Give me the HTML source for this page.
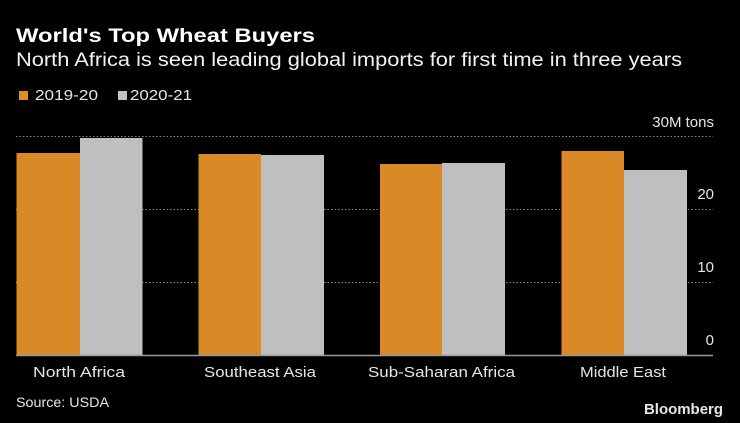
<!DOCTYPE html>
<html><head><meta charset="utf-8"><style>
html,body{margin:0;padding:0;background:#000;}
svg{display:block;font-family:"Liberation Sans","DejaVu Sans",sans-serif;}
</style></head><body>
<svg width="740" height="423" viewBox="0 0 740 423" xmlns="http://www.w3.org/2000/svg">
<rect width="740" height="423" fill="#000"/>
<text x="16" y="42" font-size="19" font-weight="bold" fill="#fff" textLength="299" lengthAdjust="spacingAndGlyphs">World's Top Wheat Buyers</text>
<text x="16" y="66" font-size="19" fill="#f2f2f2" textLength="666" lengthAdjust="spacingAndGlyphs">North Africa is seen leading global imports for first time in three years</text>
<rect x="19" y="91" width="9" height="9" fill="#e08e26"/>
<text x="35" y="100" font-size="15" fill="#e6e6e6" textLength="63" lengthAdjust="spacingAndGlyphs">2019-20</text>
<rect x="118" y="91" width="9" height="9" fill="#c2c2c2"/>
<text x="130" y="100" font-size="15" fill="#e6e6e6" textLength="62" lengthAdjust="spacingAndGlyphs">2020-21</text>
<g stroke="#888" stroke-width="1" stroke-dasharray="1.5,2">
<line x1="16" y1="136.5" x2="713" y2="136.5"/>
<line x1="16" y1="209.5" x2="713" y2="209.5"/>
<line x1="16" y1="282.5" x2="713" y2="282.5"/>
</g>
<g font-size="15" fill="#e6e6e6" text-anchor="end">
<text x="714" y="127">30M tons</text>
<text x="714" y="199">20</text>
<text x="714" y="272">10</text>
<text x="714" y="345">0</text>
</g>
<g fill="#d98a26">
<rect x="16.5" y="153" width="63.5" height="202"/>
<rect x="198.5" y="154" width="62.5" height="201"/>
<rect x="380" y="164" width="62" height="191"/>
<rect x="561.5" y="151" width="62.5" height="204"/>
</g>
<g fill="#bfbfbf">
<rect x="80" y="138" width="62.5" height="217"/>
<rect x="261" y="155" width="63" height="200"/>
<rect x="442" y="163" width="63" height="192"/>
<rect x="624" y="170" width="63" height="185"/>
</g>
<line x1="16" y1="355.5" x2="713" y2="355.5" stroke="#999" stroke-width="1.5"/>
<g font-size="15" fill="#e6e6e6">
<text x="33" y="377" textLength="92" lengthAdjust="spacingAndGlyphs">North Africa</text>
<text x="204" y="377" textLength="112" lengthAdjust="spacingAndGlyphs">Southeast Asia</text>
<text x="368" y="377" textLength="147" lengthAdjust="spacingAndGlyphs">Sub-Saharan Africa</text>
<text x="580" y="377" textLength="86" lengthAdjust="spacingAndGlyphs">Middle East</text>
<text x="16" y="407" font-size="14" textLength="93" lengthAdjust="spacingAndGlyphs">Source: USDA</text>
</g>
<text x="644" y="414" font-size="15" font-weight="bold" fill="#e6e6e6" textLength="79" lengthAdjust="spacingAndGlyphs">Bloomberg</text>
</svg>
</body></html>
